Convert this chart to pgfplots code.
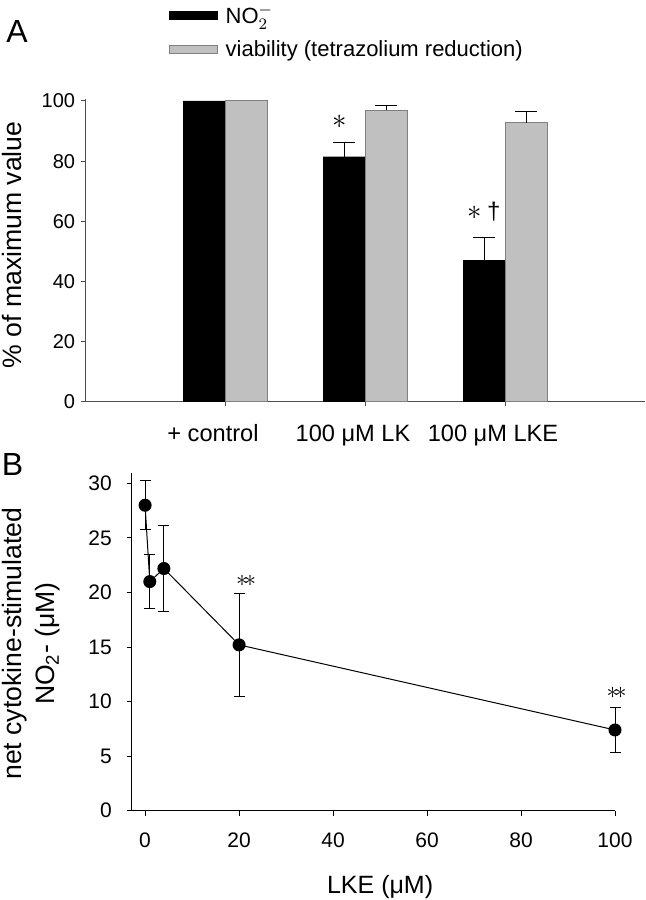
\documentclass[border=0pt]{standalone}
\usepackage{pgfplots}
\pgfplotsset{compat=1.18}
\usepackage{fontspec}
\setmainfont{Liberation Sans}
\definecolor{axgray}{HTML}{4D4D4D}
\definecolor{barfill}{HTML}{C0C0C0}
\definecolor{baredge}{HTML}{808080}
\begin{document}
\begin{tikzpicture}
\path[use as bounding box] (0,0) rectangle (322.5pt,450pt);
% ---------------- Panel A ----------------
\begin{axis}[
  at={(42.5pt,249pt)}, anchor=south west,
  scale only axis, width=280pt, height=151.25pt,
  xmin=-1, xmax=3, ymin=0, ymax=100.5,
  axis x line*=bottom, axis y line*=left,
  axis line style={axgray, line width=0.5pt},
  tick style={axgray, line width=0.5pt},
  tick align=outside, major tick length=2pt,
  xtick={0,1,2}, xticklabels={+ control, 100 μM LK, 100 μM LKE},
  ytick={0,20,40,60,80,100},
  /pgf/number format/assume math mode=true,
  yticklabel style={font=\fontsize{10}{12}\selectfont, anchor=east, inner sep=0pt, xshift=-2.75pt},
  xticklabel style={font=\fontsize{11.8}{14}\selectfont, anchor=base, inner sep=0pt, yshift=-18pt, xshift=-6pt},
  ylabel={\% of maximum value},
  ylabel style={font=\fontsize{13.3}{16}\selectfont, at={(axis description cs:-0.1295,0.519)}, anchor=center},
  clip=false,
  legend style={draw=none, fill=none, font=\fontsize{11}{13}\selectfont,
    at={(axis description cs:0.1485,1.329)}, anchor=north west,
    inner sep=0pt, row sep=3pt, column sep=2pt},
  legend cell align=left,
]
\addplot[ybar, bar width=0.3, bar shift=-0.15, fill=black, draw=none, area legend,
  legend image post style={xscale=1.41, yscale=0.75}]
  coordinates {(0,100) (1,81.5) (2,47.1)};
\addlegendentry{NO$_2^-$}
\addplot[ybar, bar width=0.3, bar shift=0.15, fill=barfill, draw=baredge, line width=0.5pt, area legend,
  legend image post style={xscale=1.41, yscale=0.75}]
  coordinates {(0,100) (1,96.9) (2,92.7)};
\addlegendentry{viability (tetrazolium reduction)}
\addplot[draw=none, mark=none, forget plot,
  error bars/.cd, y dir=plus, y explicit,
  error bar style={draw=black, line width=0.5pt},
  error mark options={draw=black, rotate=90, mark size=5.5pt, line width=0.5pt}]
  coordinates {(0.85,81.5) +- (0,4.8) (1.85,47.1) +- (0,7.7) (1.15,96.9) +- (0,1.5) (2.15,92.7) +- (0,3.7)};
\end{axis}
% ---------------- Panel B ----------------
\begin{axis}[
  at={(65.85pt,44.65pt)}, anchor=south west,
  scale only axis, width=241.65pt, height=169.1pt,
  xmin=-2.85, xmax=100, ymin=0, ymax=31,
  axis x line*=bottom, axis y line*=left,
  axis line style={black, line width=0.5pt},
  tick style={black, line width=0.5pt},
  tick align=outside, major tick length=2.5pt,
  xtick={0,20,40,60,80,100}, ytick={0,5,10,15,20,25,30},
  /pgf/number format/assume math mode=true,
  yticklabel style={font=\fontsize{10.5}{12}\selectfont, anchor=east, inner sep=0pt, xshift=-7.3pt},
  xticklabel style={font=\fontsize{10.5}{12}\selectfont, anchor=base, inner sep=0pt, yshift=-16pt},
  xlabel={LKE (μM)},
  xlabel style={font=\fontsize{12.5}{15}\selectfont, at={(axis description cs:0.514,-0.2256)}, anchor=center},
  ylabel={net cytokine-stimulated\\NO\textsubscript{2}- (μM)},
  ylabel style={font=\fontsize{13.3}{16.5}\selectfont, align=center, at={(axis description cs:-0.208,0.494)}, anchor=center},
  clip=false,
]
\addplot[black, line width=0.5pt, mark=*, mark size=3pt, mark options={fill=black},
  error bars/.cd, y dir=both, y explicit,
  error bar style={draw=black, line width=0.5pt},
  error mark options={draw=black, rotate=90, mark size=2.75pt, line width=0.5pt}]
  coordinates {
  (0,28.0) +- (0,2.27)
  (1,21.0) +- (0,2.5)
  (4,22.2) +- (0,3.9)
  (20,15.2) +- (0,4.7)
  (100,7.4) +- (0,2.05)
  };
\end{axis}
\node[font=\fontsize{16}{16}\selectfont] at (8.5pt,434pt) {A};
\node[font=\fontsize{16}{16}\selectfont] at (6.25pt,217.65pt) {B};
\node[font=\fontsize{15}{15}\selectfont] at (170pt,388.85pt) {$\ast$};
\node[font=\fontsize{15}{15}\selectfont] at (242pt,344pt) {$\ast$\,{\fontsize{12}{12}\selectfont †}};
\node[font=\fontsize{13}{13}\selectfont] at (123pt,159.65pt) {$\ast\!\ast$};
\node[font=\fontsize{13}{13}\selectfont] at (308.35pt,103.35pt) {$\ast\!\ast$};
\end{tikzpicture}
\end{document}
